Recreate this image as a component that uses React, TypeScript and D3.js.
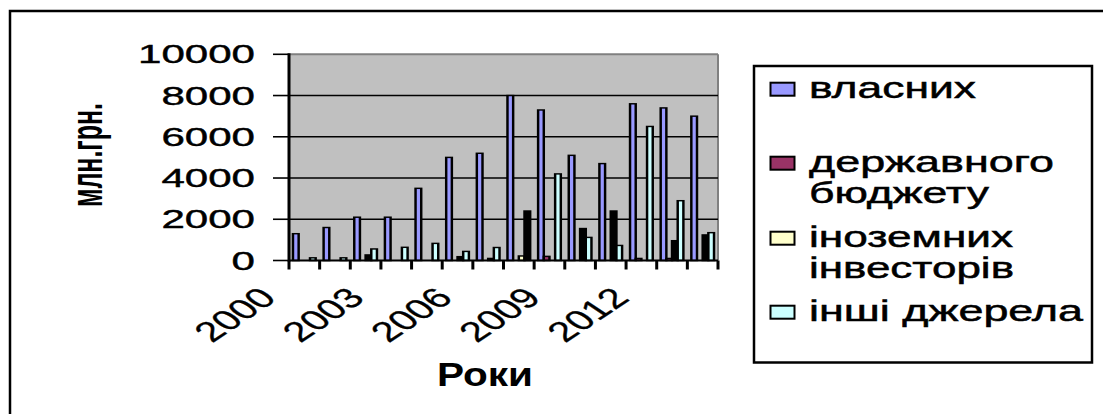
import React from "react";
import * as d3 from "d3";

const years = ["2000","2001","2002","2003","2004","2005","2006","2007","2008","2009","2010","2011","2012","2013"];
const labeledYears = ["2000","2003","2006","2009","2012"];
const seriesNames = ["власних","державного бюджету","іноземних інвесторів","інші джерела"];
const vlasnykh = [1300,1600,2100,2100,3500,5000,5200,8000,7300,5100,4700,7600,7400,7000];
const derzhBudzhet = [0,0,0,0,0,0,0,0,200,0,0,100,100,0];
const inozemni = [0,0,270,0,0,185,100,220,0,1550,2400,0,960,1240];
const inshi = [130,130,560,640,830,440,630,2400,4200,1120,730,6500,2900,1350];
const yTicks = [0,2000,4000,6000,8000,10000];
const seriesColors = ["#9999FF","#993366","#FFFFCC","#CCFFFF"];
// bars that appear solid black in the reference: [series index, year]
const blackBars: [number, string][] = [
  [2,"2002"],[2,"2005"],[2,"2006"],[2,"2009"],[2,"2010"],[2,"2012"],[2,"2013"],[3,"2007"],
];
const legendLines = [["власних"],["державного","бюджету"],["іноземних","інвесторів"],["інші джерела"]];

const FONT = "'Liberation Sans', Arial, sans-serif";

export default function App() {
  const W = 1103, H = 414;
  const PL = 289, PR = 718, PT = 54.3, PB = 260.5;
  const S = 1.7;
  const values = [vlasnykh, derzhBudzhet, inozemni, inshi];

  const x = d3.scaleBand<string>().domain(years).range([0, (PR - PL) / S]).paddingInner(0).paddingOuter(0);
  const x1 = d3.scaleBand<string>().domain(seriesNames).range([0, x.bandwidth()]).paddingInner(0).paddingOuter(0.7);
  const y = d3.scaleLinear().domain([0, 10000]).range([PB, PT]);

  const isBlack = (si: number, yr: string) => blackBars.some(([s, yy]) => s === si && yy === yr);

  const bandFinal = (yr: string) => PL + (x(yr) as number) * S;
  const stepFinal = x.step() * S;

  const digitW = 23.4;
  const legendItemY = [97.7, 171.7, 246.7, 320.7];
  const widths: Record<string, number> = {
    "власних": 167, "державного": 245, "бюджету": 180, "іноземних": 204, "інвесторів": 205, "інші джерела": 274,
  };

  return (
    <svg width={W} height={H} style={{ position: "absolute", left: 0, top: 0, background: "#fff" }} fontFamily={FONT}>
      <rect x={10} y={11} width={1200} height={500} fill="#fff" stroke="#000" strokeWidth={2.5} />

      {/* plot background */}
      <rect x={PL} y={PT} width={PR - PL} height={PB - PT} fill="#C0C0C0" />
      <line x1={PL} x2={PR} y1={PT} y2={PT} stroke="#808080" strokeWidth={2} />
      <line x1={PR} x2={PR} y1={PT} y2={PB} stroke="#808080" strokeWidth={2} />

      {yTicks.map((t) => (
        <g key={t}>
          {t > 0 && t < 10000 && <line x1={PL} x2={PR} y1={y(t)} y2={y(t)} stroke="#000" strokeWidth={1.6} />}
          <line x1={PL - 16} x2={PL} y1={y(t)} y2={y(t)} stroke="#000" strokeWidth={1.6} />
          <text
            x={255 - String(t).length * digitW}
            y={y(t) + 9}
            fontSize={25}
            textLength={String(t).length * digitW}
            lengthAdjust="spacingAndGlyphs"
            fill="#000"
            stroke="#000"
            strokeWidth={0.4}
          >
            {t}
          </text>
        </g>
      ))}

      {/* bars */}
      <g transform={`translate(${PL},0) scale(${S},1)`}>
        {years.map((yr, i) => (
          <g key={yr} transform={`translate(${x(yr)},0)`}>
            {seriesNames.map((sn, si) => {
              const v = values[si][i];
              return (
                <rect
                  key={sn}
                  x={x1(sn)}
                  width={x1.bandwidth()}
                  y={y(v)}
                  height={y(0) - y(v)}
                  fill={isBlack(si, yr) ? "#000" : seriesColors[si]}
                  stroke="#000"
                  strokeWidth={1.45}
                />
              );
            })}
          </g>
        ))}
      </g>

      {/* axes */}
      <line x1={PL} x2={PL} y1={PT - 1} y2={PB + 1} stroke="#000" strokeWidth={3} />
      <line x1={PL} x2={PR} y1={PB} y2={PB} stroke="#000" strokeWidth={2} />
      {[...years, "end"].map((yr, i) => {
        const xx = PL + i * stepFinal;
        return <line key={yr} x1={xx} x2={xx} y1={PB} y2={PB + 9} stroke="#000" strokeWidth={3} />;
      })}

      {labeledYears.map((yr) => {
        const bc = bandFinal(yr) + stepFinal / 2;
        const cx = 278 + (bc - 304.3) * 0.96;
        return (
          <text
            key={yr}
            transform={`translate(${cx},${PB + 39}) scale(1.5,1) rotate(-45)`}
            textAnchor="end"
            fontSize={28}
            fill="#000"
            stroke="#000"
            strokeWidth={0.3}
          >
            {yr}
          </text>
        );
      })}

      <text x={437} y={386} fontSize={34} fontWeight="bold" textLength={96} lengthAdjust="spacingAndGlyphs" fill="#000">
        Роки
      </text>

      <text
        transform={`translate(102,155) scale(1.8,1) rotate(-90)`}
        textAnchor="middle"
        fontSize={25}
        fontWeight="bold"
        fill="#000"
      >
        млн.грн.
      </text>

      {/* legend */}
      <rect x={754} y={66} width={338} height={296.5} fill="#fff" stroke="#000" strokeWidth={2.5} />
      {seriesNames.map((sn, si) => {
        const by = legendItemY[si];
        return (
          <g key={sn}>
            <rect x={770.5} y={by - 15} width={24} height={13} fill={seriesColors[si]} stroke="#000" strokeWidth={2} />
            {legendLines[si].map((ln, li) => (
              <text
                key={ln}
                x={809}
                y={by + li * 31.5}
                fontSize={30}
                textLength={widths[ln]}
                lengthAdjust="spacingAndGlyphs"
                fill="#000"
                stroke="#000"
                strokeWidth={0.5}
              >
                {ln}
              </text>
            ))}
          </g>
        );
      })}
    </svg>
  );
}
